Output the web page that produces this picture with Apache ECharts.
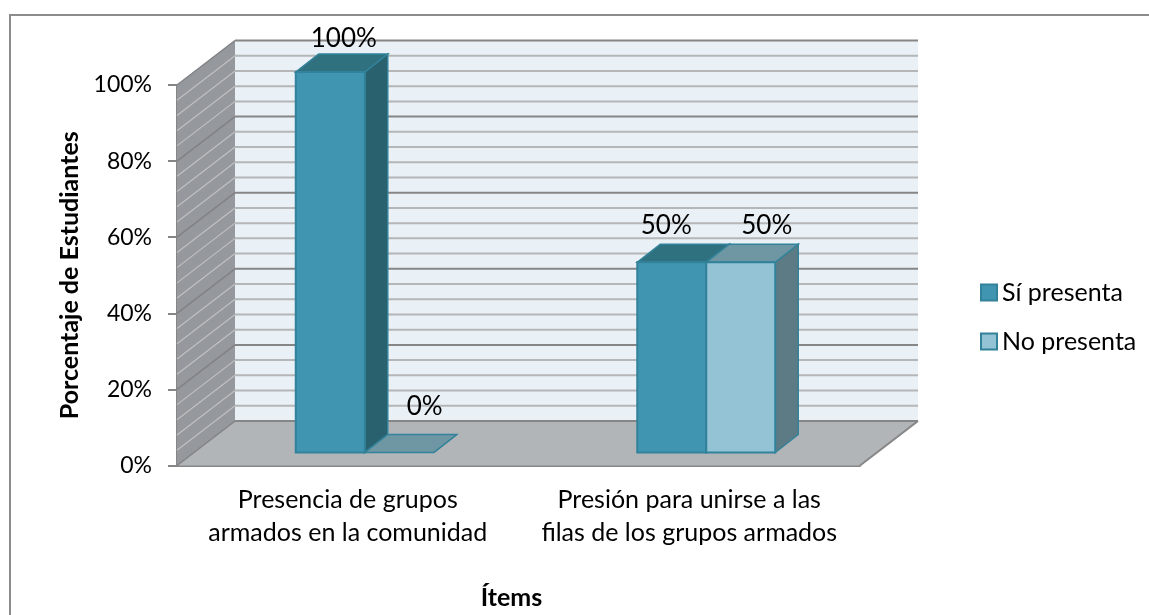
<!DOCTYPE html>
<html><head><meta charset="utf-8">
<style>html,body{margin:0;padding:0;background:#fff}#c{width:1149px;height:615px}</style>
<script src="https://cdn.jsdelivr.net/npm/echarts@6/dist/echarts.min.js"></script>
</head><body><div id="c"></div>
<script>
const categories = ["Presencia de grupos\narmados en la comunidad", "Presión para unirse a las\nfilas de los grupos armados"];
const siPresenta = [100, 50];
const noPresenta = [0, 50];
const minorTicks = [4,8,12,16,24,28,32,36,44,48,52,56,64,68,72,76,84,88,92,96];
const majorTicks = [0,20,40,60,80,100];

const font = 'Lato, "Noto Sans", sans-serif';
const fsText = 25, fsTick = 23, fsData = 26, fsName = 25;
const WALL = [58, -44.5];      // projected depth of the plot box
const BAR_START = [17, -13];   // bar front face inside the box
const BAR_DEPTH = [23, -18];   // bar depth
const BAR_RATIO = 0.202;

const palette = {
  si: {front:'#4096b0', side:'#29616f', top:'#307180', edge:'#31829a'},
  no: {front:'#93c3d5', side:'#5d7b85', top:'#6e96a3', edge:'#31829a'}
};
// label nudges relative to the middle of the bar's back top edge
const nudgeSi = [[-9.5,-15],[-28.5,-19]];
const nudgeNo = [[2.5,-28],[3,-19]];

const poly = (pts, fill, stroke, lw) => ({type:'polygon', shape:{points:pts},
  style:{fill, stroke:stroke||null, lineWidth:lw||0}});
const seg = (a, b, color, w) => ({type:'line', shape:{x1:a[0],y1:a[1],x2:b[0],y2:b[1]},
  style:{stroke:color, lineWidth:w}});
const add = (p, d) => [p[0]+d[0], p[1]+d[1]];

function renderBox(params, api) {
  const a = api.coord([0, 0]);
  const band = api.size([1, 0])[0];
  const left = a[0] - band/2, right = left + band*2;
  const yAt = v => api.coord([0, v])[1];
  const kids = [];
  const bl = [left, yAt(0)], tl = [left, yAt(100)], br = [right, yAt(0)];
  const gridLeft = v => [left, yAt(v)];
  kids.push(poly([add(bl,WALL), add(br,WALL), add([right,yAt(100)],WALL), add(tl,WALL)], '#e9f0f6'));
  kids.push(poly([bl, add(bl,WALL), add(tl,WALL), tl], '#95989c'));
  kids.push(poly([bl, br, add(br,WALL), add(bl,WALL)], '#b1b5b8'));
  minorTicks.forEach(v => {
    const p = gridLeft(v), q = add(p, WALL);
    kids.push(seg(p, q, '#bfc1c3', 1.2));
    kids.push(seg(q, [right+WALL[0], q[1]], '#b5b6b7', 2));
  });
  majorTicks.forEach(v => {
    const p = gridLeft(v), q = add(p, WALL);
    kids.push(seg(p, q, '#808285', 1.5));
    kids.push(seg(q, [right+WALL[0], q[1]], '#868686', 2));
  });
  kids.push(seg(br, add(br,WALL), '#868686', 2));
  return {type:'group', children:kids};
}

function makeBarRenderer(pal, slot, nudges) {
  return function (params, api) {
    const cat = api.value(0), val = api.value(1);
    const base = api.coord([cat, 0]), top = api.coord([cat, val]);
    const w = api.size([1, 0])[0] * BAR_RATIO;
    const x0 = base[0] + slot*w + BAR_START[0], x1 = x0 + w;
    const yb = base[1] + BAR_START[1], yt = top[1] + BAR_START[1];
    const fl=[x0,yb], fr=[x1,yb], tl=[x0,yt], tr=[x1,yt];
    const lw = 1.5;
    const kids = [];
    kids.push(poly([fr, add(fr,BAR_DEPTH), add(tr,BAR_DEPTH), tr], pal.side, pal.edge, lw));
    kids.push(poly([tl, tr, add(tr,BAR_DEPTH), add(tl,BAR_DEPTH)], pal.top, pal.edge, lw));
    if (val > 0) kids.push(poly([fl, fr, tr, tl], pal.front, pal.edge, 2));
    const n = nudges[params.dataIndex];
    kids.push({type:'text', z2:10, style:{
      text: val + '%', x:(x0+x1)/2 + BAR_DEPTH[0] + n[0], y: yt + BAR_DEPTH[1] + n[1],
      fill:'#000', font: fsData + 'px ' + font, align:'center', verticalAlign:'middle'}});
    return {type:'group', children:kids};
  };
}

const chart = echarts.init(document.getElementById('c'), null, {renderer:'canvas'});
chart.setOption({
  animation:false,
  backgroundColor:'#fff',
  textStyle:{fontFamily:font},
  graphic:[
    {type:'line', silent:true, shape:{x1:9,y1:15,x2:1149,y2:15}, style:{stroke:'#8c8c8c', lineWidth:2}},
    {type:'line', silent:true, shape:{x1:10,y1:14,x2:10,y2:615}, style:{stroke:'#8c8c8c', lineWidth:2}}
  ],
  legend:{
    orient:'vertical', left:975, top:275, icon:'rect', itemWidth:16, itemHeight:16, itemGap:24,
    data:['Sí presenta','No presenta'],
    textStyle:{fontSize:fsText, fontFamily:font, color:'#000', padding:[0,0,0,0]}
  },
  grid:{left:177, right:289, top:85, bottom:149.5, containLabel:false, outerBoundsMode:'none'},
  xAxis:{
    type:'category', data:categories, boundaryGap:true,
    axisLine:{show:true, lineStyle:{color:'#868686', width:2}},
    axisTick:{show:false},
    axisLabel:{color:'#000', fontSize:fsText, fontFamily:font, lineHeight:33, margin:18, interval:0},
    name:'Ítems', nameLocation:'middle', nameGap:120,
    nameTextStyle:{color:'#000', fontSize:fsName, fontWeight:'bold', fontFamily:font, padding:[0,14,0,0]}
  },
  yAxis:{
    type:'value', min:0, max:100, interval:20,
    axisLine:{show:true, onZero:false, lineStyle:{color:'#868686', width:2}},
    axisTick:{show:true, length:9, lineStyle:{color:'#868686', width:2}},
    splitLine:{show:false},
    axisLabel:{color:'#000', fontSize:fsTick, fontFamily:font, margin:25, padding:[7,0,0,0], formatter:'{value}%'},
    name:'Porcentaje de Estudiantes', nameLocation:'middle', nameGap:95,
    nameTextStyle:{color:'#000', fontSize:fsName, fontWeight:'bold', fontFamily:font}
  },
  series:[
    {type:'custom', name:'box', silent:true, z:1, renderItem:renderBox, data:[[0,0]], encode:{x:0,y:1}},
    {type:'custom', name:'Sí presenta', z:3, renderItem:makeBarRenderer(palette.si,-1,nudgeSi),
      itemStyle:{color:palette.si.front, borderColor:palette.si.edge, borderWidth:2},
      data:categories.map((c,i)=>[i,siPresenta[i]]), encode:{x:0,y:1}},
    {type:'custom', name:'No presenta', z:3, renderItem:makeBarRenderer(palette.no,0,nudgeNo),
      itemStyle:{color:palette.no.front, borderColor:palette.no.edge, borderWidth:2},
      data:categories.map((c,i)=>[i,noPresenta[i]]), encode:{x:0,y:1}}
  ]
});
</script></body></html>
